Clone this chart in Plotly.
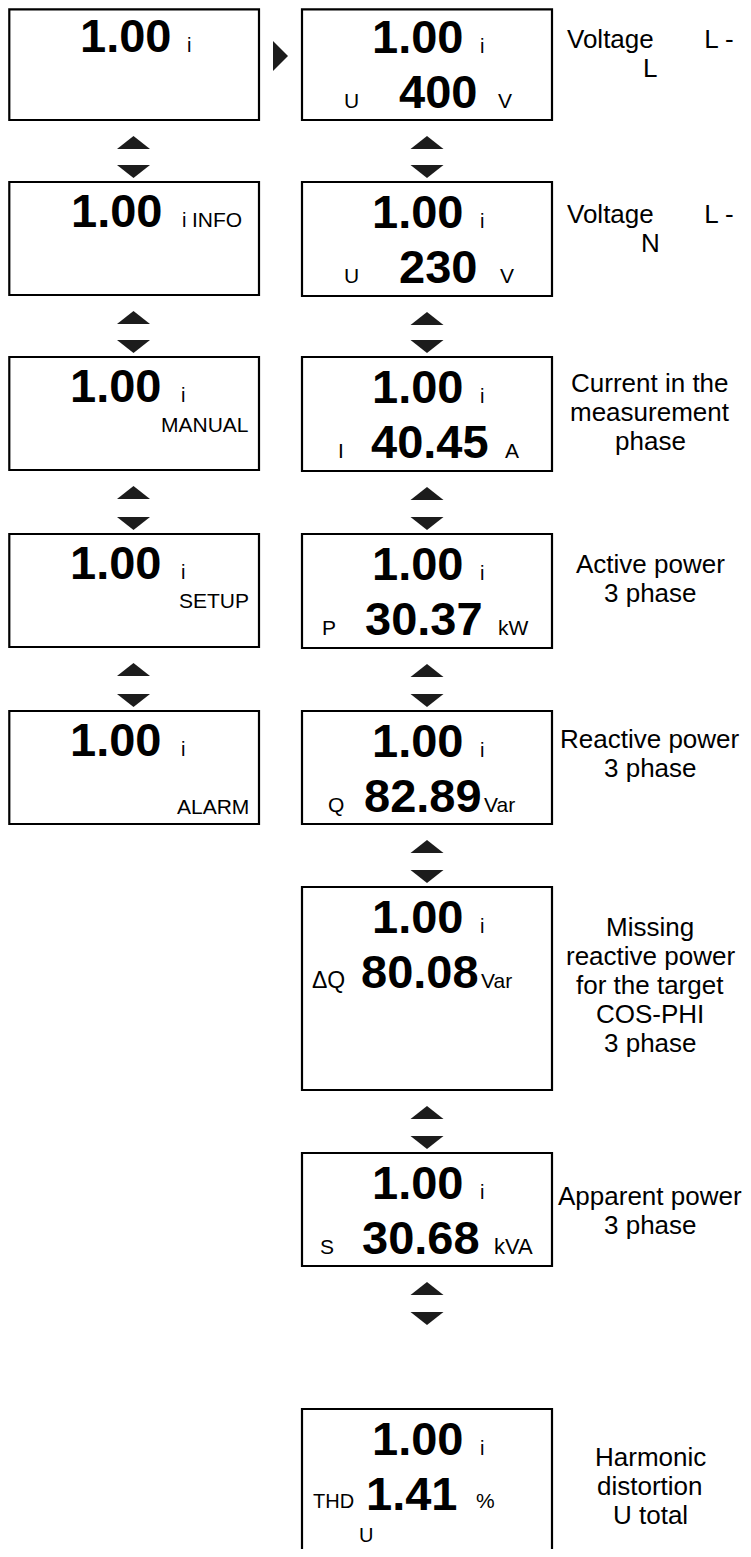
import plotly.graph_objects as go

# ---------------- data ----------------
main_value = "1.00"
main_index = "i"
left_labels = ["", "INFO", "MANUAL", "SETUP", "ALARM"]
right_symbols = ["U", "U", "I", "P", "Q", "ΔQ", "S", "THD"]
right_values = ["400", "230", "40.45", "30.37", "82.89", "80.08", "30.68", "1.41"]
right_units = ["V", "V", "A", "kW", "Var", "Var", "kVA", "%"]
descriptions = [
    ["Voltage" + "\u00a0" * 7 + "L -", "L"],
    ["Voltage" + "\u00a0" * 7 + "L -", "N"],
    ["Current in the", "measurement", "phase"],
    ["Active power", "3 phase"],
    ["Reactive power", "3 phase"],
    ["Missing", "reactive power", "for the target", "COS-PHI", "3 phase"],
    ["Apparent power", "3 phase"],
    ["Harmonic", "distortion", "U total"],
]
thd_subscript = "U"

# ---------------- layout constants ----------------
PAGE_W, PAGE_H = 751, 1557
BODY_OFFSET = 8          # default margin of the html body
FONT = "Liberation Sans, Arial, sans-serif"
INK = "#000000"
ARROW_INK = "#1c1c1c"

left_x0, left_x1 = 9.3, 259
right_x0, right_x1 = 302, 552
left_tops = [9.3, 182, 357, 534, 711]
right_tops = [9.3, 182, 357, 534, 711, 887, 1153, 1409]
right_heights = [110.7, 114, 114, 114, 113, 203, 113, 170]
left_heights = [110.7, 113, 113, 113, 113]

BIG = 47      # big digits
SMALL = 21    # small labels
DESC = 26     # description text
DESC_SPACING = 29

left_value_cx = [125, 116, 115, 115, 115]
left_i_x = [186, 181, 180, 180, 180]
right_value_cx = 417
right_i_x = 479

sym_x = [343, 343, 337, 321, 327, 311, 319, 312]          # left edge of symbol
val_cx = [438, 438, 430, 424, 423, 420, 421, 411]          # centre of value
unit_x = [497, 499, 504, 497, 483, 480, 493, 475]          # left edge of unit
left_label_right = 250
left_label_base = [0, 52, 82, 81, 110]        # baseline below nominal box top
desc_cx = 650
desc_mid_off = [-1, -1, 8, -3, -5, 6, 10, 30]   # baseline of middle line relative to box centre

nominal_tops = [7, 182, 357, 534, 711, 887, 1153, 1409]
nominal_heights = [113, 114, 114, 114, 113, 203, 113, 170]

fig = go.Figure()
annotations = []
shapes = []


def text(x, baseline, s, size, anchor="left", bold=False):
    annotations.append(dict(
        x=x, y=baseline - 0.3465 * size, xref="x", yref="y",
        text=s, showarrow=False, xanchor=anchor, yanchor="middle",
        borderpad=0,
        font=dict(family=FONT, size=size, color=INK,
                  weight="bold" if bold else "normal"),
    ))


def rect(x0, y0, x1, y1):
    shapes.append(dict(type="rect", xref="x", yref="y", x0=x0, y0=y0, x1=x1, y1=y1,
                       line=dict(color=INK, width=2.2), fillcolor="rgba(0,0,0,0)"))


def tri_path(pts):
    return "M " + " L ".join(f"{px},{py}" for px, py in pts) + " Z"


def updown(cx, up_top, down_bottom, w=33, h=13):
    shapes.append(dict(type="path", xref="x", yref="y",
                       path=tri_path([(cx - w / 2, up_top + h), (cx, up_top), (cx + w / 2, up_top + h)]),
                       fillcolor=ARROW_INK, line=dict(width=0)))
    shapes.append(dict(type="path", xref="x", yref="y",
                       path=tri_path([(cx - w / 2, down_bottom - h), (cx + w / 2, down_bottom - h), (cx, down_bottom)]),
                       fillcolor=ARROW_INK, line=dict(width=0)))


# ---------------- left column ----------------
left_cx = (8 + left_x1) / 2
for k, top in enumerate(left_tops):
    ntop = nominal_tops[k]
    rect(left_x0, top, left_x1, top + left_heights[k])
    text(left_value_cx[k], ntop + 45, main_value, BIG, "center", bold=True)
    text(left_i_x[k], ntop + 45, main_index, SMALL - 1, "left")
    lab = left_labels[k]
    if lab:
        if k == 1:
            text(191, ntop + 45, lab, SMALL, "left")
        else:
            text(left_label_right, ntop + left_label_base[k] - 7, lab, SMALL, "right")
    if k < len(left_tops) - 1:
        updown(left_cx, ntop + 113 + 16, nominal_tops[k + 1] - 4)

# ---------------- right column ----------------
right_cx = (right_x0 + right_x1) / 2
for k, top in enumerate(right_tops):
    ntop = nominal_tops[k]
    h = nominal_heights[k]
    rect(right_x0, top, right_x1, top + right_heights[k])
    text(right_value_cx, ntop + 46, main_value, BIG, "center", bold=True)
    text(right_i_x, ntop + 46, main_index, SMALL - 1, "left")
    base2 = ntop + 101
    sym_size = 23 if k == 5 else (20 if k == 7 else SMALL)
    text(sym_x[k], base2 - (2 if k == 7 else 0), right_symbols[k], sym_size, "left")
    text(val_cx[k], base2, right_values[k], BIG, "center", bold=True)
    text(unit_x[k], base2 - (2 if k == 7 else 0), right_units[k], SMALL + (1 if k == 6 else 0), "left")
    if k == 7:
        text(358, ntop + 133, thd_subscript, 20, "left")
    # descriptions
    lines = descriptions[k]
    centre = ntop + (h / 2 if k == 5 else 113 / 2)
    mid_base = centre + desc_mid_off[k]
    n = len(lines)
    for j, line in enumerate(lines):
        b = mid_base + (j - (n - 1) / 2) * DESC_SPACING
        text(desc_cx, b, line, DESC, "center")
    # arrows to next screen
    if k < 6:
        updown(right_cx, ntop + h + 16, nominal_tops[k + 1] - 4)
    elif k == 6:
        updown(right_cx, ntop + h + 16, ntop + h + 59)

# pointer from first left screen to first right screen
shapes.append(dict(type="path", xref="x", yref="y",
                   path=tri_path([(273, 41), (288, 56), (273, 71)]),
                   fillcolor=ARROW_INK, line=dict(width=0)))

fig.update_layout(
    width=PAGE_W - 2 * BODY_OFFSET, height=PAGE_H - 2 * BODY_OFFSET,
    margin=dict(l=0, r=0, t=0, b=0, pad=0),
    paper_bgcolor="white", plot_bgcolor="white",
    xaxis=dict(range=[BODY_OFFSET, PAGE_W - BODY_OFFSET], visible=False, fixedrange=True),
    yaxis=dict(range=[PAGE_H - BODY_OFFSET, BODY_OFFSET], visible=False, fixedrange=True),
    shapes=shapes, annotations=annotations,
    showlegend=False,
)
fig.write_html("out.html", config={"displayModeBar": False})
